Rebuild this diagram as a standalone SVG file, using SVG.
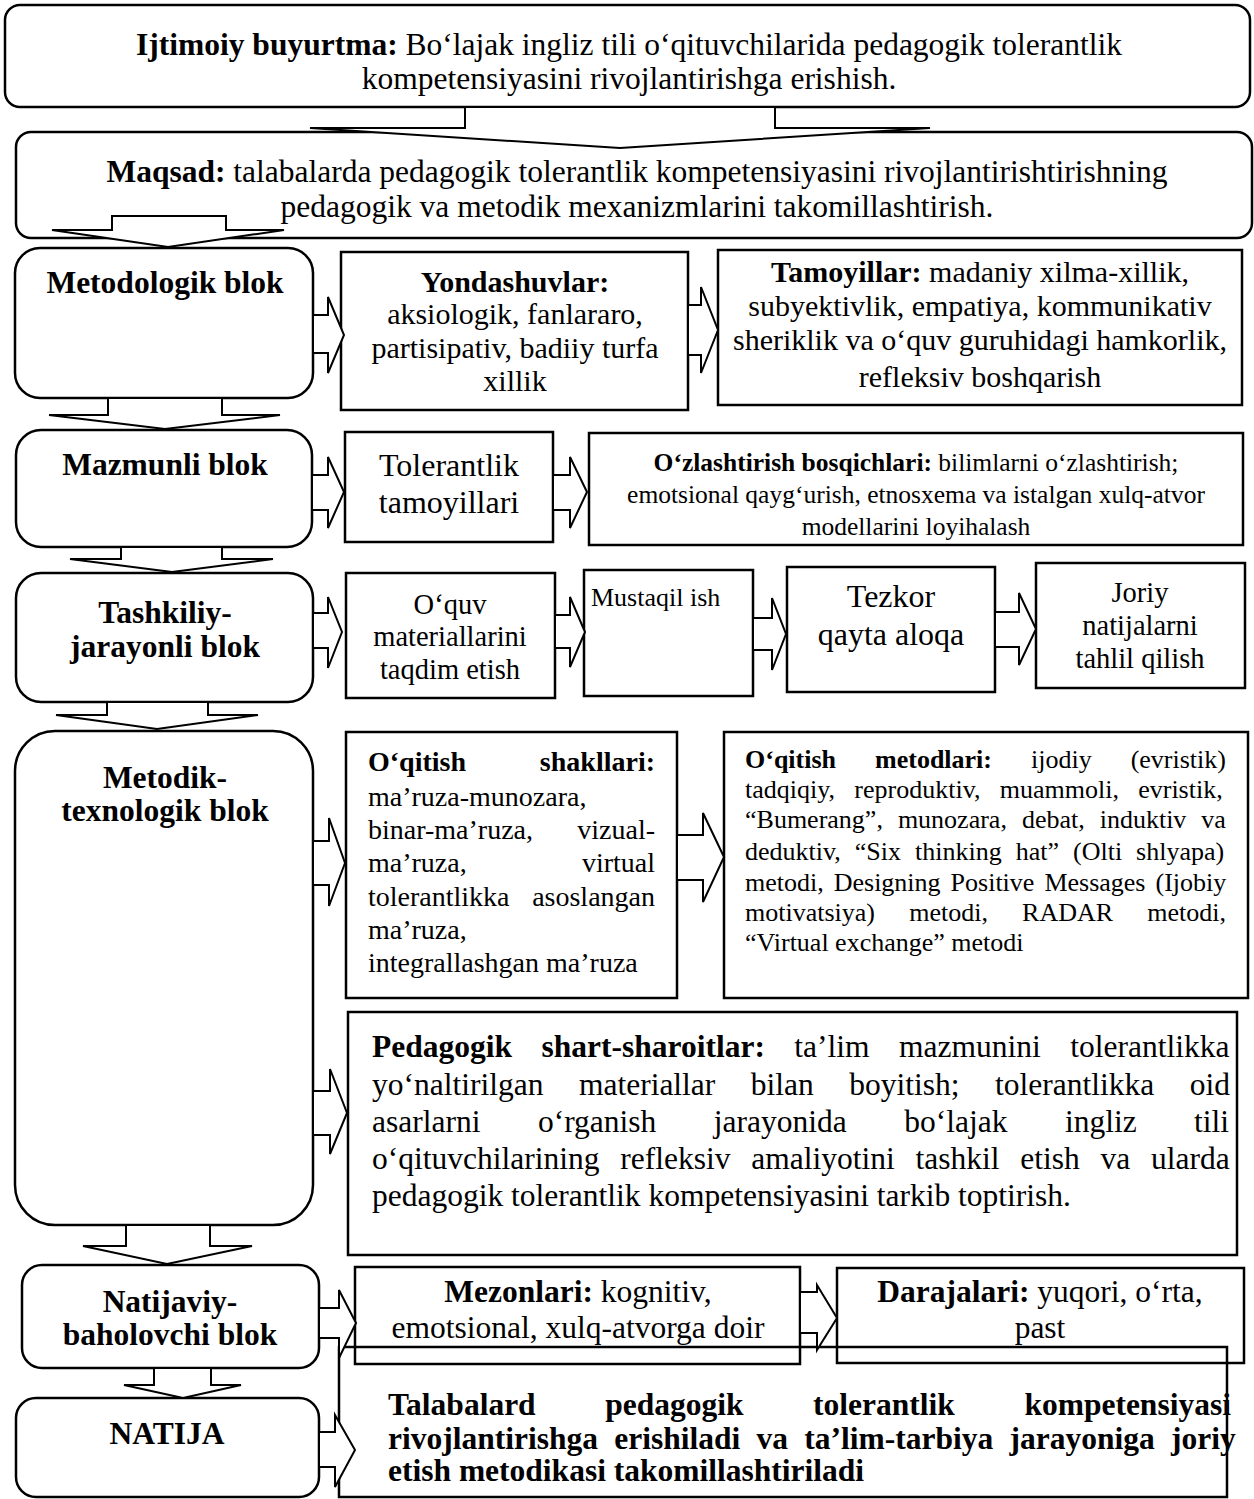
<svg xmlns="http://www.w3.org/2000/svg" width="1254" height="1499" viewBox="0 0 1254 1499">
<style>
.box{fill:#fff;stroke:#000;stroke-width:2.5}
.open{fill:none;stroke:#000;stroke-width:2.5}
.arr{fill:#fff;stroke:#000;stroke-width:2;stroke-linejoin:miter}
text{font-family:"Liberation Serif","Times New Roman",serif;fill:#000}
.b{font-weight:bold}
.c{text-anchor:middle}
.e{text-anchor:end}
.f315{font-size:31.5px}
.f32{font-size:32px}
.f30{font-size:30px}
.f285{font-size:28.5px}
.f28{font-size:28px}
.f26{font-size:26px}
.f255{font-size:25.5px}
</style>
<rect width="1254" height="1499" fill="#fff"/>

<g id="n-ijtimoiy">
<rect class="box" x="5" y="5" width="1245" height="102" rx="15"/>
<text class="c f315" x="629" y="55"><tspan class="b">Ijtimoiy buyurtma:</tspan> Bo‘lajak ingliz tili o‘qituvchilarida pedagogik tolerantlik</text>
<text class="c f315" x="629" y="89">kompetensiyasini rivojlantirishga erishish.</text>
</g>

<g id="n-maqsad">
<rect class="box" x="16" y="132" width="1236" height="106" rx="15"/>
<text class="c f315" x="637" y="182"><tspan class="b">Maqsad:</tspan> talabalarda pedagogik tolerantlik kompetensiyasini rivojlantirishtirishning</text>
<text class="c f315" x="637" y="217">pedagogik va metodik mexanizmlarini takomillashtirish.</text>
</g>

<g id="n-metodologik">
<rect class="box" x="15" y="248" width="298" height="150" rx="25"/>
<text class="c b f315" x="165" y="293">Metodologik blok</text>
</g>

<g id="n-yondashuvlar">
<rect class="box" x="341" y="252" width="347" height="158"/>
<text class="c f30" x="515" y="292"><tspan class="b">Yondashuvlar:</tspan></text>
<text class="c f30" x="515" y="324">aksiologik, fanlararo,</text>
<text class="c f30" x="515" y="358">partisipativ, badiiy turfa</text>
<text class="c f30" x="515" y="391">xillik</text>
</g>

<g id="n-tamoyillar">
<rect class="box" x="718" y="250" width="524" height="155"/>
<text class="c f30" x="980" y="282"><tspan class="b">Tamoyillar:</tspan> madaniy xilma-xillik,</text>
<text class="c f30" x="980" y="316">subyektivlik, empatiya, kommunikativ</text>
<text class="c f30" x="980" y="350">sheriklik va o‘quv guruhidagi hamkorlik,</text>
<text class="c f30" x="980" y="387">refleksiv boshqarish</text>
</g>

<g id="n-mazmunli">
<rect class="box" x="16" y="430" width="296" height="117" rx="25"/>
<text class="c b f315" x="165" y="475">Mazmunli blok</text>
</g>

<g id="n-tolerantlik">
<rect class="box" x="345" y="432" width="208" height="110"/>
<text class="c f32" x="449" y="476">Tolerantlik</text>
<text class="c f32" x="449" y="513">tamoyillari</text>
</g>

<g id="n-ozlashtirish">
<rect class="box" x="589" y="433" width="654" height="112"/>
<text class="c f255" x="916" y="471"><tspan class="b">O‘zlashtirish bosqichlari:</tspan> bilimlarni o‘zlashtirish;</text>
<text class="c f255" x="916" y="503">emotsional qayg‘urish, etnosxema va istalgan xulq-atvor</text>
<text class="c f255" x="916" y="535">modellarini loyihalash</text>
</g>

<g id="n-tashkiliy">
<rect class="box" x="16" y="573" width="297" height="129" rx="25"/>
<text class="c b f315" x="165" y="623">Tashkiliy-</text>
<text class="c b f315" x="165" y="657">jarayonli blok</text>
</g>

<g id="n-oquv">
<rect class="box" x="346" y="573" width="209" height="125"/>
<text class="c f285" x="450" y="614">O‘quv</text>
<text class="c f285" x="450" y="646">materiallarini</text>
<text class="c f285" x="450" y="679">taqdim etish</text>
</g>

<g id="n-mustaqil">
<rect class="box" x="584" y="570" width="169" height="126"/>
<text class="f26" x="591" y="606">Mustaqil ish</text>
</g>

<g id="n-tezkor">
<rect class="box" x="787" y="567" width="208" height="125"/>
<text class="c f32" x="891" y="607">Tezkor</text>
<text class="c f32" x="891" y="645">qayta aloqa</text>
</g>

<g id="n-joriy">
<rect class="box" x="1036" y="563" width="209" height="125"/>
<text class="c f285" x="1140" y="602">Joriy</text>
<text class="c f285" x="1140" y="635">natijalarni</text>
<text class="c f285" x="1140" y="668">tahlil qilish</text>
</g>

<g id="n-metodik">
<rect class="box" x="15" y="731" width="298" height="494" rx="40"/>
<text class="c b f315" x="165" y="788">Metodik-</text>
<text class="c b f315" x="165" y="821">texnologik blok</text>
</g>

<g id="n-shakllari">
<rect class="box" x="346" y="732" width="331" height="266"/>
<text class="b f28" x="368" y="771">O‘qitish</text>
<text class="b f28 e" x="655" y="771">shakllari:</text>
<text class="f28" x="368" y="806">ma’ruza-munozara,</text>
<text class="f28" x="368" y="839">binar-ma’ruza,</text>
<text class="f28 e" x="655" y="839">vizual-</text>
<text class="f28" x="368" y="872">ma’ruza,</text>
<text class="f28 e" x="655" y="872">virtual</text>
<text class="f28" x="368" y="906">tolerantlikka</text>
<text class="f28 e" x="655" y="906">asoslangan</text>
<text class="f28" x="368" y="939">ma’ruza,</text>
<text class="f28" x="368" y="972">integrallashgan ma’ruza</text>
</g>

<g id="n-metodlari">
<rect class="box" x="724" y="732" width="524" height="266"/>
<text class="f26" x="745" y="768" word-spacing="32.5"><tspan class="b">O‘qitish metodlari:</tspan> ijodiy (evristik)</text>
<text class="f26" x="745" y="798" word-spacing="12.8">tadqiqiy, reproduktiv, muammoli, evristik,</text>
<text class="f26" x="745" y="828" word-spacing="8.5">“Bumerang”, munozara, debat, induktiv va</text>
<text class="f26" x="745" y="860" word-spacing="7.5">deduktiv, “Six thinking hat” (Olti shlyapa)</text>
<text class="f26" x="745" y="891" word-spacing="3.5">metodi, Designing Positive Messages (Ijobiy</text>
<text class="f26" x="745" y="921" word-spacing="27.7">motivatsiya) metodi, RADAR metodi,</text>
<text class="f26" x="745" y="951">“Virtual exchange” metodi</text>
</g>

<g id="n-pedagogik">
<rect class="box" x="348" y="1012" width="889" height="243"/>
<text class="f315" x="372" y="1057" word-spacing="21.6"><tspan class="b">Pedagogik shart-sharoitlar:</tspan> ta’lim mazmunini tolerantlikka</text>
<text class="f315" x="372" y="1095" word-spacing="27.6">yo‘naltirilgan materiallar bilan boyitish; tolerantlikka oid</text>
<text class="f315" x="372" y="1132" word-spacing="49.6">asarlarni o‘rganish jarayonida bo‘lajak ingliz tili</text>
<text class="f315" x="372" y="1169" word-spacing="12.9">o‘qituvchilarining refleksiv amaliyotini tashkil etish va ularda</text>
<text class="f315" x="372" y="1206">pedagogik tolerantlik kompetensiyasini tarkib toptirish.</text>
</g>

<g id="n-natijaviy">
<rect class="box" x="22" y="1265" width="297" height="103" rx="20"/>
<text class="c b f315" x="170" y="1312">Natijaviy-</text>
<text class="c b f315" x="170" y="1345">baholovchi blok</text>
</g>

<g id="n-natija">
<rect class="box" x="16" y="1398" width="303" height="99" rx="20"/>
<text class="c b f315" x="167" y="1444">NATIJA</text>
</g>

<g id="n-mezonlari">
<rect class="open" x="355" y="1267" width="445" height="97"/>
<text class="c f315" x="578" y="1302"><tspan class="b">Mezonlari:</tspan> kognitiv,</text>
<text class="c f315" x="578" y="1338">emotsional, xulq-atvorga doir</text>
</g>

<g id="n-darajalari">
<rect class="open" x="837" y="1268" width="407" height="95"/>
<text class="c f315" x="1040" y="1302"><tspan class="b">Darajalari:</tspan> yuqori, o‘rta,</text>
<text class="c f315" x="1040" y="1338">past</text>
</g>

<g id="n-talabalard">
<rect class="open" x="339" y="1347" width="888" height="150"/>
<text class="b f315" x="388" y="1415" word-spacing="61.7">Talabalard pedagogik tolerantlik kompetensiyasi</text>
<text class="b f315" x="388" y="1449" word-spacing="8.4">rivojlantirishga erishiladi va ta’lim-tarbiya jarayoniga joriy</text>
<text class="b f315" x="388" y="1481">etish metodikasi takomillashtiriladi</text>
</g>

<g id="connectors">
<path class="arr" d="M465,107 L775,107 L775,128 L930,128 L620,148 L310,128 L465,128 Z"/>
<path class="arr" d="M112,216 L226,216 L226,230 L284,230 L168,247 L52,230 L112,230 Z"/>
<path class="arr" d="M108,398 L222,398 L222,415 L280,415 L165,429 L49,415 L108,415 Z"/>
<path class="arr" d="M121,547 L222,547 L222,559 L273,559 L172,572 L70,559 L121,559 Z"/>
<path class="arr" d="M107,702 L208,702 L208,715 L258,715 L157,729 L56,715 L107,715 Z"/>
<path class="arr" d="M126,1225 L210,1225 L210,1246 L252,1246 L167,1264 L83,1246 L126,1246 Z"/>
<path class="arr" d="M154,1368 L211,1368 L211,1385 L241,1385 L183,1398 L124,1385 L154,1385 Z"/>

<path class="arr" d="M313,315 L328,315 L328,297 L344,335 L328,373 L328,353 L313,353 Z"/>
<path class="arr" d="M688,305 L701,305 L701,287 L718,330 L701,373 L701,355 L688,355 Z"/>
<path class="arr" d="M312,475 L328,475 L328,457 L344,492 L328,528 L328,510 L312,510 Z"/>
<path class="arr" d="M553,475 L570,475 L570,457 L587,492 L570,528 L570,510 L553,510 Z"/>
<path class="arr" d="M313,613 L328,613 L328,597 L342,632 L328,668 L328,648 L313,648 Z"/>
<path class="arr" d="M555,615 L570,615 L570,597 L585,632 L570,667 L570,648 L555,648 Z"/>
<path class="arr" d="M753,618 L772,618 L772,598 L786,634 L772,670 L772,650 L753,650 Z"/>
<path class="arr" d="M995,612 L1019,612 L1019,593 L1036,629 L1019,665 L1019,647 L995,647 Z"/>
<path class="arr" d="M313,841 L329,841 L329,818 L345,863 L329,906 L329,885 L313,885 Z"/>
<path class="arr" d="M677,835 L703,835 L703,813 L724,857 L703,902 L703,880 L677,880 Z"/>
<path class="arr" d="M313,1091 L330,1091 L330,1069 L347,1113 L330,1154 L330,1135 L313,1135 Z"/>
<path class="arr" d="M319,1308 L339,1308 L339,1290 L356,1323 L339,1358 L339,1338 L319,1338 Z"/>
<path class="arr" d="M800,1292 L817,1292 L817,1285 L837,1318 L817,1350 L817,1333 L800,1333 Z"/>
<path class="arr" d="M319,1432 L335,1432 L335,1415 L355,1450 L335,1487 L335,1467 L319,1467 Z"/>
</g>
</svg>
